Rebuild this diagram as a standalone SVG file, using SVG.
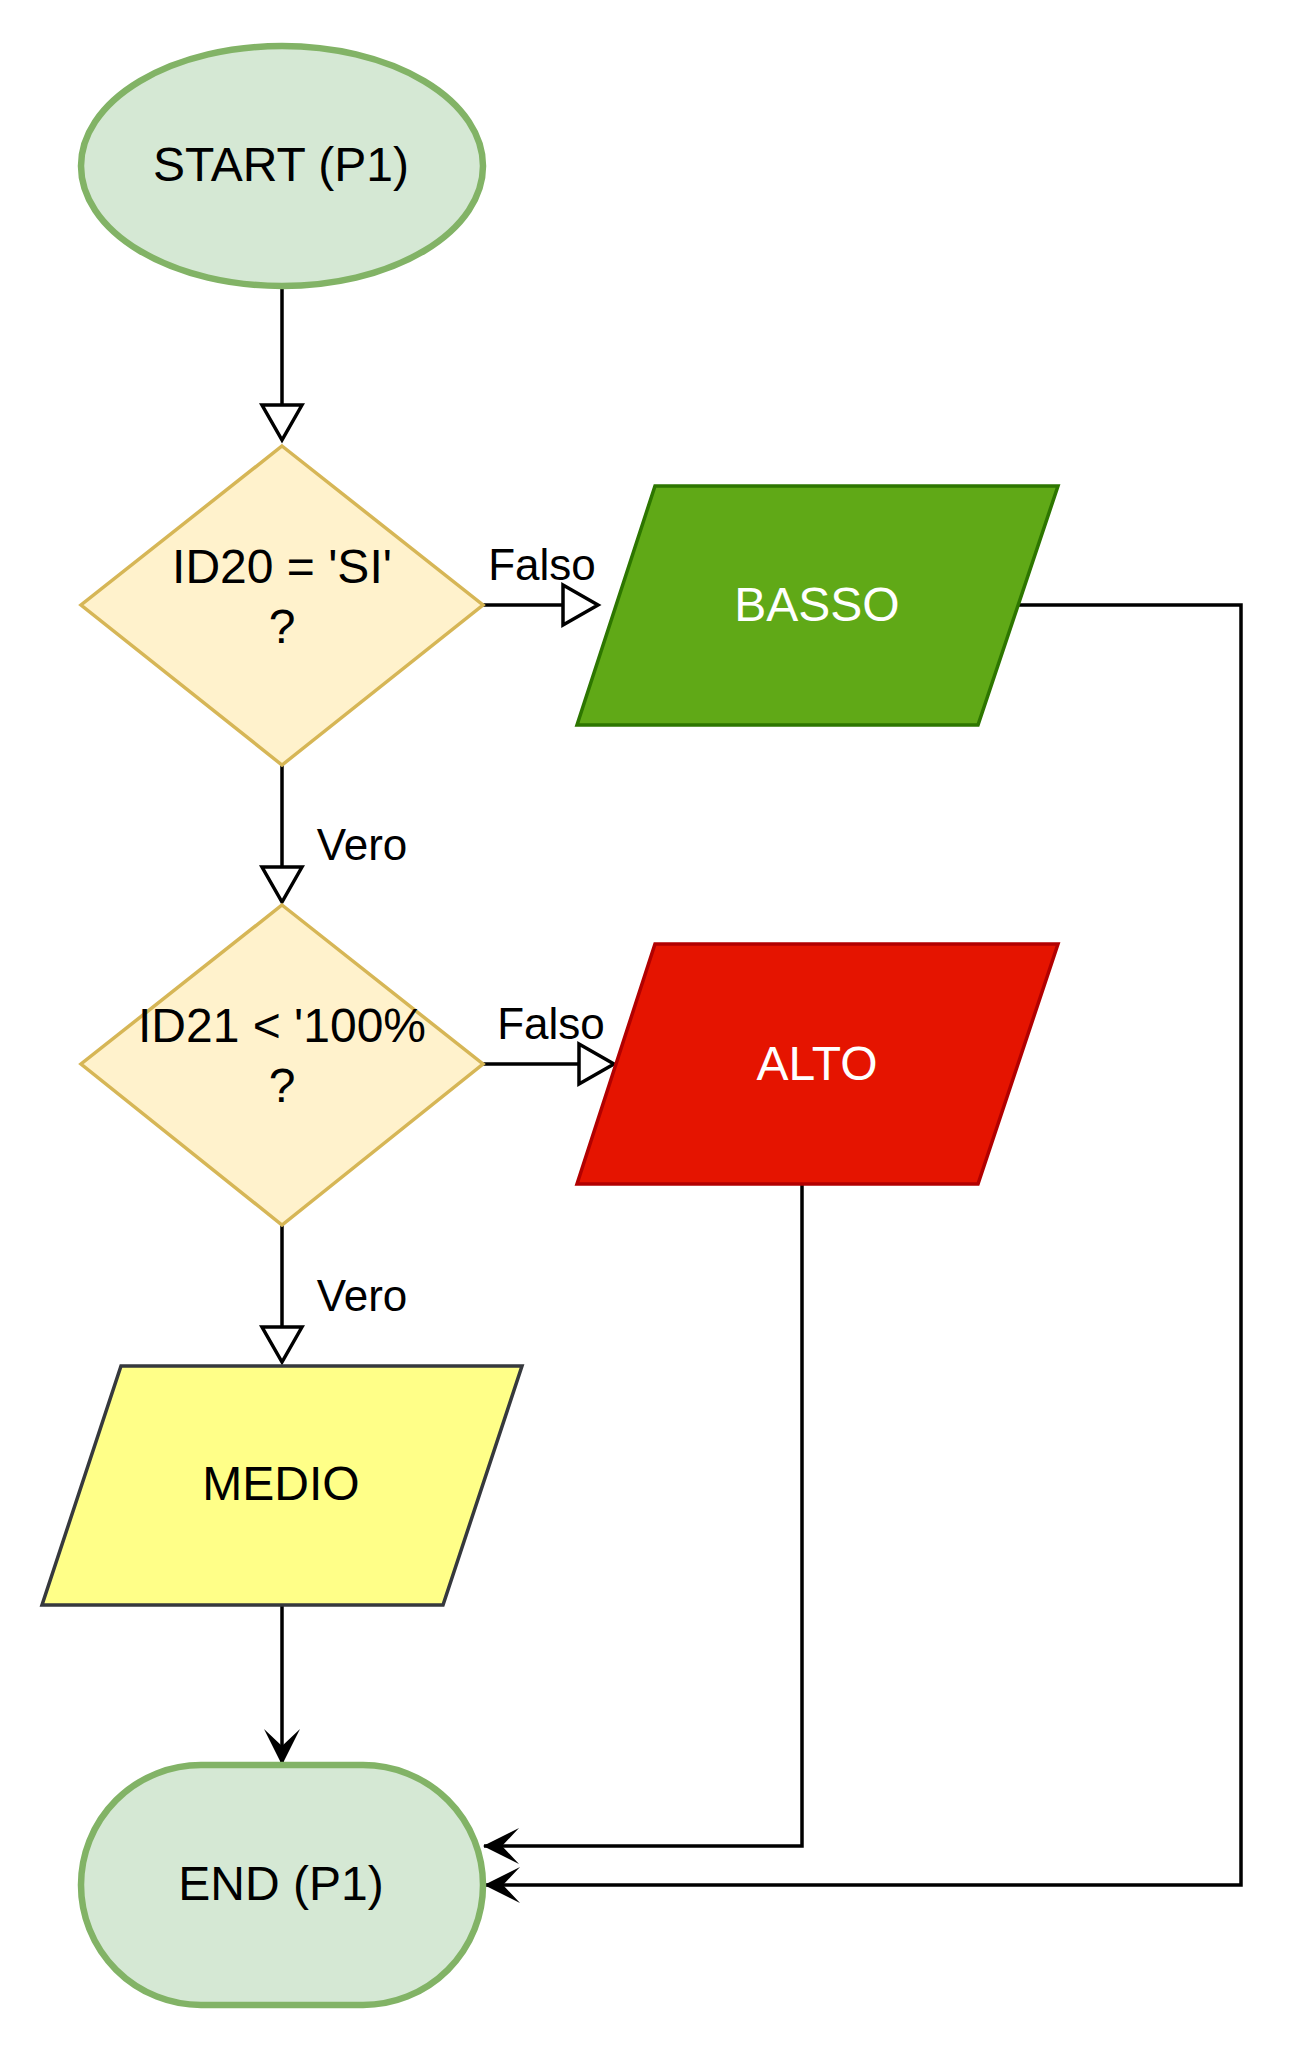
<svg xmlns="http://www.w3.org/2000/svg" width="1316" height="2048" viewBox="0 0 1316 2048">
<style>
text{font-family:"Liberation Sans",Arial,sans-serif;text-anchor:middle}
.nt{font-size:48px;fill:#000}
.wt{font-size:48px;fill:#fff}
.lb{font-size:44px;fill:#000}
.term{fill:#d5e8d4;stroke:#82b366;stroke-width:6.5}
.dec{fill:#fff2cc;stroke:#d6b656;stroke-width:3.5}
.conn{fill:none;stroke:#000;stroke-width:3.5}
</style>
<defs>
<marker id="open" markerUnits="userSpaceOnUse" markerWidth="40" markerHeight="44" viewBox="-2 -2 40 44" refX="35" refY="20" orient="auto" overflow="visible">
<path d="M0,0 L35,20 L0,40 Z" fill="#fff" stroke="#000" stroke-width="3.5"/>
</marker>
<marker id="block" markerUnits="userSpaceOnUse" markerWidth="36" markerHeight="36" viewBox="0 0 36 36" refX="35" refY="18" orient="auto" overflow="visible">
<path d="M36,18 L0,0 L17,18 L0,36 Z" fill="#000"/>
</marker>
</defs>
<rect width="1316" height="2048" fill="#fff"/>
<g id="connectors">
<path class="conn" d="M282,287 V440" marker-end="url(#open)"/>
<path class="conn" d="M483,605 H598" marker-end="url(#open)"/>
<path class="conn" d="M282,765 V902" marker-end="url(#open)"/>
<path class="conn" d="M483,1064 H614" marker-end="url(#open)"/>
<path class="conn" d="M282,1225 V1362" marker-end="url(#open)"/>
<path class="conn" d="M282,1605 V1764" marker-end="url(#block)"/>
<path class="conn" d="M802,1184 V1846 H484" marker-end="url(#block)"/>
<path class="conn" d="M1018,605 H1241 V1885 H485" marker-end="url(#block)"/>
<text class="lb" x="542" y="580">Falso</text>
<text class="lb" x="551" y="1039">Falso</text>
<text class="lb" x="362" y="860">Vero</text>
<text class="lb" x="362" y="1311">Vero</text>
</g>
<g id="start">
<ellipse class="term" cx="282" cy="166" rx="201" ry="120"/>
<text class="nt" x="281" y="181">START (P1)</text>
</g>
<g id="dec1">
<polygon class="dec" points="282,446 483,605 282,765 81,605"/>
<text class="nt" x="282" y="583">ID20 = 'SI'</text>
<text class="nt" x="282" y="643">?</text>
</g>
<g id="basso">
<polygon points="655,486 1058,486 978,725 577,725" fill="#60a917" stroke="#2d7600" stroke-width="3.5"/>
<text class="wt" x="817" y="621">BASSO</text>
</g>
<g id="dec2">
<polygon class="dec" points="282,905 483,1064 282,1225 81,1064"/>
<text class="nt" x="282" y="1042">ID21 &lt; '100%</text>
<text class="nt" x="282" y="1102">?</text>
</g>
<g id="alto">
<polygon points="655,944 1058,944 978,1184 577,1184" fill="#e51400" stroke="#b20000" stroke-width="3.5"/>
<text class="wt" x="817" y="1080">ALTO</text>
</g>
<g id="medio">
<polygon points="121,1366 522,1366 443,1605 42,1605" fill="#ffff88" stroke="#36393d" stroke-width="3.5"/>
<text class="nt" x="281" y="1500">MEDIO</text>
</g>
<g id="end">
<rect class="term" x="81" y="1765" width="402" height="240" rx="120" ry="120"/>
<text class="nt" x="281" y="1900">END (P1)</text>
</g>
</svg>
